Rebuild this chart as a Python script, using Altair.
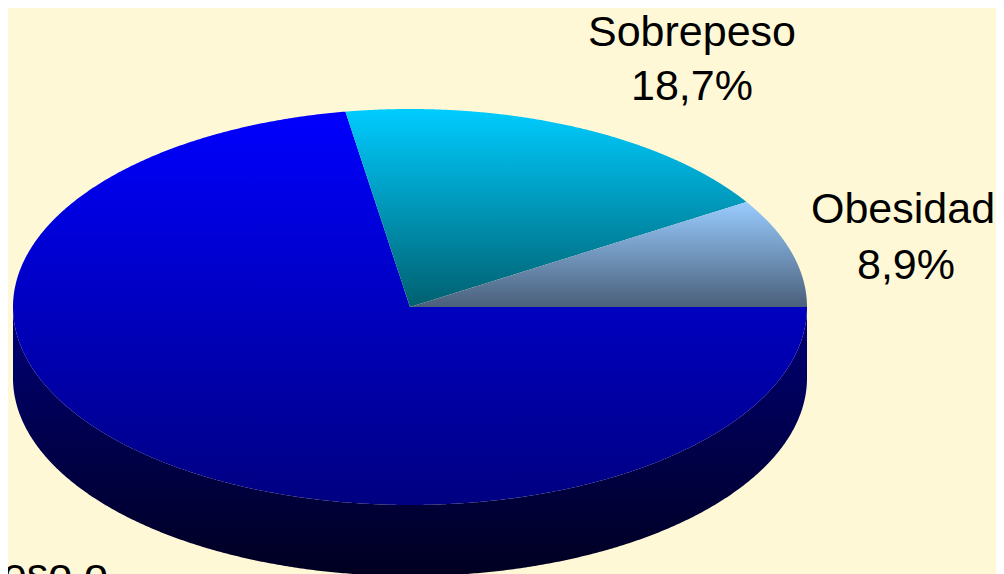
import math
import altair as alt
import pandas as pd

# Slice shares (percent); angles run counter-clockwise from 3 o'clock
labels = ["Obesidad", "Sobrepeso", "Sin sobrepeso o"]
shares = [8.9, 18.7, 72.4]
percent_text = ["8,9%", "18,7%"]

BG = "#FFF8D6"
CX, CY, RX, RY, DEPTH = 410.0, 307.0, 397.0, 198.0, 71.0
PAGE = 8
W, H = 988, 566

x_dom = [(PAGE - CX) / RX, (PAGE + W - CX) / RX]
y_dom = [(CY - PAGE - H) / RY, (CY - PAGE) / RY]
X = alt.X("x:Q", scale=alt.Scale(domain=x_dom, nice=False, zero=False), axis=None)
Y = alt.Y("y:Q", scale=alt.Scale(domain=y_dom, nice=False, zero=False), axis=None)
Y2 = alt.Y2("y2:Q")

t1 = math.radians(shares[0] * 3.6)
t2 = math.radians((shares[0] + shares[1]) * 3.6)
x1, y1 = math.cos(t1), math.sin(t1)
x2, y2 = math.cos(t2), math.sin(t2)
N = 500


def upper(x):
    return math.sqrt(max(0.0, 1 - x * x))


def grid(a, b, extra=()):
    pts = [a + (b - a) * (1 - math.cos(math.pi * i / N)) / 2 for i in range(N + 1)]
    return sorted(set(pts) | set(extra))


def obesity():
    rows = []
    for x in grid(0, 1, [x1]):
        rows.append({"x": x, "y": min(upper(x), x * y1 / x1), "y2": 0.0})
    return pd.DataFrame(rows)


def overweight():
    rows = []
    for x in grid(x2, x1, [0.0]):
        low = x * y2 / x2 if x < 0 else x * y1 / x1
        rows.append({"x": x, "y": upper(x), "y2": low})
    return pd.DataFrame(rows)


def rest():
    rows = []
    for x in grid(-1, 1, [x2, 0.0]):
        if x <= x2:
            top = upper(x)
        elif x < 0:
            top = x * y2 / x2
        else:
            top = 0.0
        rows.append({"x": x, "y": top, "y2": -upper(x)})
    return pd.DataFrame(rows)


def side():
    d = DEPTH / RY
    rows = []
    for x in grid(-1, 1):
        rows.append({"x": x, "y": -upper(x), "y2": -upper(x) - d})
    return pd.DataFrame(rows)


def grad(top, bottom):
    return alt.Gradient(
        gradient="linear", x1=0, x2=0, y1=0, y2=1,
        stops=[alt.GradientStop(color=top, offset=0), alt.GradientStop(color=bottom, offset=1)],
    )


def area(df, top, bottom):
    return alt.Chart(df).mark_area(color=grad(top, bottom), interpolate="linear").encode(
        x=X, y=Y, y2=Y2
    )


text_rows = pd.DataFrame([
    {"t": labels[1], "x": (692 - CX) / RX, "y": (CY - 46) / RY},
    {"t": percent_text[1], "x": (692 - CX) / RX, "y": (CY - 100) / RY},
    {"t": labels[0], "x": (903 - CX) / RX, "y": (CY - 223) / RY},
    {"t": percent_text[0], "x": (906 - CX) / RX, "y": (CY - 279) / RY},
])
end_label = pd.DataFrame([{"t": labels[2], "x": (108 - CX) / RX, "y": (CY - 588) / RY}])

text_style = dict(font="Liberation Sans", fontSize=43, color="#000000", baseline="alphabetic")
texts = alt.Chart(text_rows).mark_text(align="center", **text_style).encode(x=X, y=Y, text="t:N")
end_text = alt.Chart(end_label).mark_text(align="right", **text_style).encode(x=X, y=Y, text="t:N")

chart = (
    alt.layer(
        area(side(), "#000078", "#000020"),
        area(rest(), "#0000FF", "#000080"),
        area(overweight(), "#00CCFF", "#006070"),
        area(obesity(), "#99CCFF", "#4A5F7A"),
        texts,
        end_text,
    )
    .properties(
        width=W, height=H, background=BG, padding=0,
        autosize=alt.AutoSizeParams(type="none"),
    )
    .configure_view(stroke=None)
)

chart.save("out.html", embed_options={"renderer": "svg", "actions": False})
